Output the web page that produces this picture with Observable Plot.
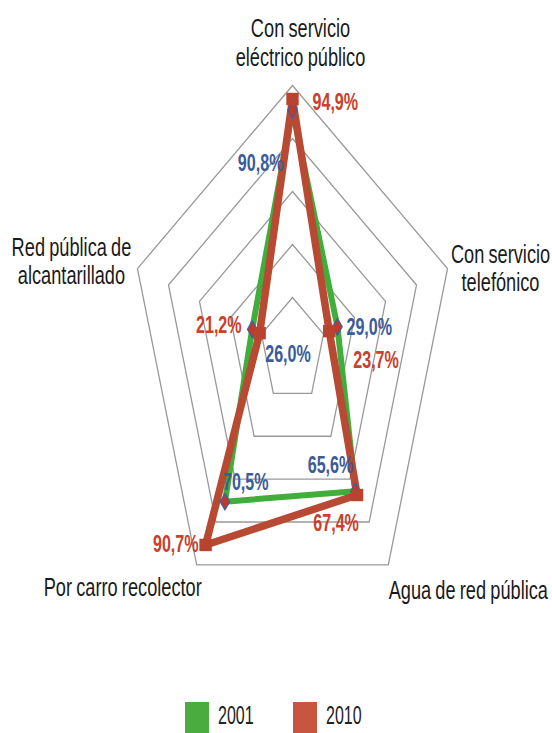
<!DOCTYPE html>
<html>
<head>
<meta charset="utf-8">
<script src="https://cdn.jsdelivr.net/npm/d3@7"></script>
<script src="https://cdn.jsdelivr.net/npm/@observablehq/plot@0.6"></script>
<style>
  html, body { margin: 0; padding: 0; background: #fff; width: 552px; height: 733px; overflow: hidden; }
  #chart svg { display: block; font-family: "Liberation Sans", Arial, sans-serif; word-spacing: -0.12em; }
  #legend { height: 35px; position: relative; font-family: "Liberation Sans", Arial, sans-serif; font-size: 25px; color: #222; }
  .item { position: absolute; top: 4px; }
  .sw { position: absolute; left: 0; top: 0; width: 24px; height: 31px; }
  .lbl { position: absolute; left: 33px; top: -2px; line-height: 30px; transform: scaleX(0.64); transform-origin: 0 0; white-space: nowrap; }
</style>
</head>
<body>
<div id="chart"></div>
<div id="legend"></div>
<script>
// ---- data ----
const categories = ["Con servicio\neléctrico público", "Con servicio\ntelefónico", "Agua de red pública", "Por carro recolector", "Red pública de\nalcantarillado"];
const values2001 = [90.8, 29.0, 65.6, 70.5, 26.0];
const values2010 = [94.9, 23.7, 67.4, 90.7, 21.2];
const gridLevels = [20, 40, 60, 80, 100];
const years = ["2001", "2010"];

// ---- layout (not data) ----
const colors = { "2001": "#3fae3b", "2010": "#b84a34" };
const swatchColors = { "2001": "#4aab3e", "2010": "#c8553f" };
const labelColors = { "2001": "#3b5b9b", "2010": "#c9402c" };
const catOffsets = [ {dx: 8, dy: -20}, {dx: 53, dy: 22}, {dx: 80, dy: 34}, {dx: -74, dy: 31}, {dx: -66, dy: 15} ];
const offs2001 = [ {dx: -9, dy: 54, a: "end"}, {dx: 9, dy: 1, a: "start"}, {dx: -2, dy: -26, a: "end"}, {dx: -2, dy: -19, a: "start"}, {dx: 13, dy: 25, a: "start"} ];
const offs2010 = [ {dx: 20, dy: 4, a: "start"}, {dx: 24, dy: 30, a: "start"}, {dx: -21, dy: 29, a: "middle"}, {dx: -7, dy: 0, a: "end"}, {dx: -18, dy: -8, a: "end"} ];

const n = categories.length;
const ang = i => i * 2 * Math.PI / n;
const px = (v, i) => v * Math.sin(ang(i));
const py = (v, i) => v * Math.cos(ang(i));
const fmt = v => v.toFixed(1).replace(".", ",") + "%";

const grid = gridLevels.flatMap(l => d3.range(n + 1).map(i => ({level: l, x: px(l, i % n), y: py(l, i % n)})));
const series = (vals, year) => vals.map((v, i) => ({year, i, v, x: px(v, i), y: py(v, i)}));
const s2001 = series(values2001, "2001");
const s2010 = series(values2010, "2010");
const closed = s => [...s, s[0]];
const cats = categories.map((c, i) => ({c, i, x: px(100, i), y: py(100, i)}));

const textMarks = (s, offs, year) => s.map((d, k) => Plot.text([d], {
  x: "x", y: "y", text: d => fmt(d.v), dx: offs[k].dx, dy: offs[k].dy, textAnchor: offs[k].a,
  fill: labelColors[year], fontWeight: "bold", fontSize: 23
}));

const chart = Plot.plot({
  width: 552, height: 698, margin: 0,
  x: {domain: [-100, 100], range: [129, 455], axis: null},
  y: {domain: [-100, 100], range: [615, 85], axis: null},
  marks: [
    Plot.line(grid, {x: "x", y: "y", z: "level", stroke: "#999999", strokeWidth: 1.3}),
    Plot.line(closed(s2001), {x: "x", y: "y", stroke: colors["2001"], strokeWidth: 6, strokeLinejoin: "round"}),
    Plot.line(closed(s2010), {x: "x", y: "y", stroke: colors["2010"], strokeWidth: 7.5, strokeLinejoin: "round"}),
    Plot.dot(s2001, {x: "x", y: "y", symbol: "diamond", r: 5, fill: "#c0392b", stroke: "#3b5fa5", strokeWidth: 1.2}),
    Plot.dot(s2010, {x: "x", y: "y", symbol: "square", r: 7, fill: "#b8432e"}),
    ...textMarks(s2001, offs2001, "2001"),
    ...textMarks(s2010, offs2010, "2010"),
    ...cats.map((d, k) => Plot.text([d], {x: "x", y: "y", text: "c", dx: catOffsets[k].dx, dy: catOffsets[k].dy, lineAnchor: "bottom", fontSize: 26, lineHeight: 1.08, fill: "#1a1a1a"}))
  ]
});
// condense all text horizontally (reference uses a condensed typeface)
chart.querySelectorAll("text").forEach(t => {
  let tr = t.getAttribute("transform");
  if (!tr) {
    const x = t.getAttribute("x") || 0, y = t.getAttribute("y") || 0;
    t.removeAttribute("x"); t.removeAttribute("y");
    tr = `translate(${x},${y})`;
  }
  t.setAttribute("transform", tr + " scale(0.7,1)");
});
document.getElementById("chart").appendChild(chart);

const lp = [185, 293];
const legend = document.getElementById("legend");
years.forEach((y, k) => {
  const it = document.createElement("div");
  it.className = "item";
  it.style.left = lp[k] + "px";
  it.innerHTML = `<div class="sw" style="background:${swatchColors[y]}"></div><div class="lbl">${y}</div>`;
  legend.appendChild(it);
});
</script>
</body>
</html>
